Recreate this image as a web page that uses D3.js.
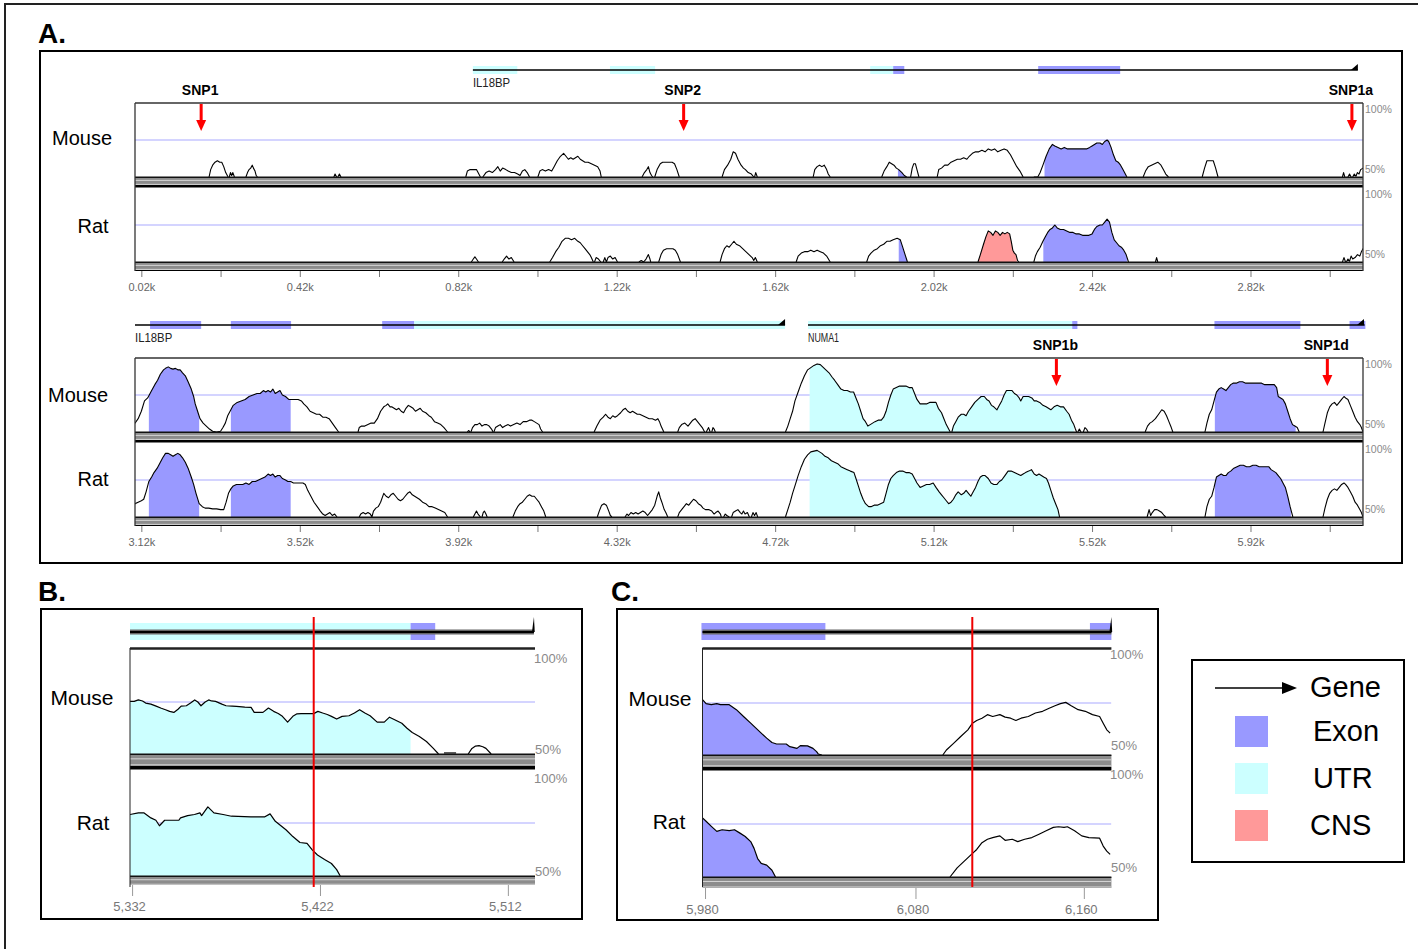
<!DOCTYPE html>
<html>
<head>
<meta charset="utf-8">
<script src="https://cdn.jsdelivr.net/npm/d3@7"></script>
<style>
  body { margin: 0; background: #fff; }
  svg { display: block; }
  text { font-family: "Liberation Sans", Arial, Helvetica, sans-serif; }
</style>
</head>
<body>
<svg id="fig" width="1418" height="949"></svg>
<script>
// ---------------------------------------------------------------------------
// VISTA-style conservation profiles (human reference, % identity, 50-100%)
// Positions are in bp along the human sequence.
// ---------------------------------------------------------------------------

// Panel A rows (bp windows) and axis ticks
const rowDomainsA = [[4, 3104], [3104, 6204]];
const ticksRow1 = [20, 220, 420, 620, 820, 1020, 1220, 1420, 1620, 1820, 2020, 2220, 2420, 2620, 2820, 3020];
const ticksRow2 = [3120, 3320, 3520, 3720, 3920, 4120, 4320, 4520, 4720, 4920, 5120, 5320, 5520, 5720, 5920, 6120];
const tickLabelsRow1 = ["0.02k", "", "0.42k", "", "0.82k", "", "1.22k", "", "1.62k", "", "2.02k", "", "2.42k", "", "2.82k", ""];
const tickLabelsRow2 = ["3.12k", "", "3.52k", "", "3.92k", "", "4.32k", "", "4.72k", "", "5.12k", "", "5.52k", "", "5.92k", ""];

// Gene annotation (panel A)
const geneLinesA = [[857, 3091], [3104, 4745], [4803, 6208]];
const geneFeaturesA = [
  [857, 969, "utr"], [1203, 1317, "utr"], [1860, 1918, "utr"], [1918, 1946, "exon"], [2284, 2491, "exon"],
  [3142, 3271, "exon"], [3346, 3498, "exon"], [3728, 3809, "exon"], [3809, 4745, "utr"],
  [4803, 5470, "utr"], [5470, 5483, "exon"], [5829, 6046, "exon"], [6170, 6210, "exon"]
];
const geneNamesA = [["IL18BP", 857], ["IL18BP", 3104], ["NUMA1", 4803]];

// SNP positions marked in panel A
const snpNamesA = ["SNP1", "SNP2", "SNP1a", "SNP1b", "SNP1d"];
const snpPosA = [171, 1389, 3076, 5430, 6114];

// Mouse vs human, panel A
const mouseA = [
  [[191,50],[195,55],[200,58],[206,60],[212,61],[218,60],[223,60],[228,57],[233,53],[239,50]],
  [[242,50],[245,53],[248,51],[251,53],[255,50]],
  [[284,50],[288,53],[292,55],[296,56],[300,58],[303,56],[307,54],[310,51],[313,50]],
  [[506,50],[509,52],[513,50]],
  [[516,50],[520,52],[524,50]],
  [[839,50],[843,54],[850,55],[858,55],[866,55],[872,52],[876,50]],
  [[882,50],[890,53],[898,54],[906,53],[914,55],[920,57],[926,54],[932,56],[940,55],[946,54],[954,53],[962,53],[970,52],[976,51],[982,54],[988,55],[994,53],[1000,50]],
  [[1021,50],[1026,54],[1032,55],[1040,54],[1048,55],[1056,54],[1062,57],[1070,61],[1078,64],[1086,66],[1092,64],[1098,62],[1104,63],[1110,62],[1116,63],[1122,64],[1128,62],[1134,61],[1140,60],[1148,60],[1156,59],[1164,58],[1172,57],[1178,54],[1181,50]],
  [[1284,50],[1290,53],[1296,55],[1300,57],[1304,53],[1308,51],[1311,50]],
  [[1316,50],[1322,55],[1330,59],[1336,60],[1344,60],[1352,60],[1360,60],[1366,59],[1372,55],[1378,50]],
  [[1486,50],[1492,55],[1500,58],[1508,62],[1514,67],[1520,66],[1526,62],[1534,58],[1540,56],[1545,55],[1552,53],[1560,52],[1566,50]],
  [[1568,50],[1571,53],[1575,50]],
  [[1716,50],[1720,55],[1726,57],[1732,58],[1738,57],[1744,58],[1750,55],[1754,52],[1759,50]],
  [[1889,50],[1895,54],[1902,57],[1908,60],[1914,59],[1920,58],[1926,56],[1932,55],[1940,53],[1946,51],[1952,50]],
  [[1962,50],[1966,56],[1970,59],[1974,59],[1978,55],[1983,50]],
  [[2029,50],[2033,55],[2040,56],[2048,58],[2056,58],[2064,60],[2072,61],[2080,62],[2088,62],[2096,63],[2104,62],[2110,64],[2118,66],[2126,67],[2134,67],[2142,68],[2150,67],[2158,69],[2166,68],[2174,69],[2182,67],[2190,68],[2198,69],[2206,68],[2214,65],[2222,61],[2230,57],[2238,54],[2246,50]],
  [[2273,50],[2283,50],[2289,53],[2296,58],[2304,64],[2312,69],[2320,72],[2326,71],[2334,70],[2342,69],[2350,70],[2358,69],[2366,69],[2374,69],[2382,69],[2390,69],[2398,69],[2406,69],[2414,70],[2420,71],[2426,72],[2432,73],[2440,73],[2446,72],[2452,74],[2458,75],[2462,74],[2468,70],[2474,65],[2480,61],[2486,60],[2492,58],[2498,55],[2504,52],[2508,50]],
  [[2549,50],[2555,54],[2562,57],[2570,58],[2578,59],[2586,60],[2594,58],[2600,55],[2606,52],[2613,50]],
  [[2698,50],[2704,56],[2710,61],[2718,61],[2726,61],[2732,56],[2738,50]],
  [[3052,50],[3055,53],[3058,50]],
  [[3066,50],[3070,52],[3074,50]],
  [[3078,50],[3082,52],[3086,50.5],[3090,53],[3094,52],[3098,55],[3104,56],[3112,59],[3120,64],[3128,71],[3136,73],[3146,78],[3154,82],[3161,85],[3168,89],[3176,92],[3181,93],[3188,94],[3194,93],[3200,92.5],[3206,93],[3212,92],[3218,92],[3224,90],[3231,88],[3238,84],[3246,79],[3252,74],[3256,69],[3262,64],[3268,59],[3276,56],[3284,54],[3292,52],[3300,50.5],[3310,50],[3320,50.5],[3326,53],[3332,56],[3338,61],[3344,64],[3352,68],[3362,70],[3372,71],[3382,72],[3392,74],[3402,75],[3412,76],[3420,76],[3428,78],[3434,77],[3440,78],[3446,77],[3452,79],[3458,76],[3464,77],[3470,78],[3476,75],[3484,74],[3492,72],[3500,72],[3508,72],[3516,72],[3524,71],[3530,69],[3538,67],[3546,64],[3554,63],[3562,62],[3570,62],[3578,60],[3586,60],[3594,59],[3602,56],[3610,53],[3618,50]],
  [[3667,50],[3670,53],[3676,54],[3684,54],[3692,55],[3700,56],[3708,56],[3716,59],[3724,64],[3732,67],[3738,68],[3742,69],[3748,67],[3752,67],[3758,66],[3764,65],[3770,66],[3776,64],[3782,63],[3788,66],[3794,68],[3800,67],[3806,66],[3812,64],[3818,65],[3824,66],[3830,64],[3838,63],[3846,61],[3852,60],[3860,57],[3868,56],[3876,55],[3884,53],[3893,50]],
  [[3943,50],[3946,51],[3950,50]],
  [[3952,50],[3956,53],[3962,55],[3968,55],[3974,56],[3980,54],[3986,55],[3992,55],[3998,54],[4004,52],[4008,50]],
  [[4010,50],[4014,53],[4020,54],[4026,55],[4032,53],[4038,54],[4046,55],[4052,54],[4060,55],[4068,56],[4076,55],[4084,57],[4092,57],[4100,58],[4106,58],[4112,57],[4118,56],[4124,55],[4128,52],[4133,50]],
  [[4263,50],[4270,54],[4278,58],[4286,60],[4292,62],[4298,60],[4304,59],[4310,61],[4316,60],[4322,61],[4330,63],[4336,65],[4342,66],[4348,64],[4354,63],[4360,64],[4366,63],[4372,62],[4378,62],[4386,61],[4394,60],[4402,59],[4410,59],[4418,58],[4424,59],[4428,57],[4432,54],[4439,50]],
  [[4474,50],[4478,53],[4484,55],[4492,56],[4500,54],[4506,56],[4512,58],[4518,59],[4524,57],[4530,55],[4536,53],[4542,50]],
  [[4546,50],[4552,53],[4556,50]],
  [[4560,50],[4563,53],[4566,52],[4569,50]],
  [[4746,50],[4752,54],[4758,59],[4764,64],[4770,71],[4778,77],[4786,83],[4794,88],[4802,92],[4810,93.5],[4818,95],[4826,96],[4834,95.5],[4840,94],[4848,92],[4856,90],[4864,87],[4870,85],[4878,82],[4886,79],[4894,78],[4902,78],[4910,77],[4918,77],[4924,73],[4930,69],[4936,64],[4942,59],[4948,57],[4954,54],[4960,55],[4966,56],[4972,57],[4980,58],[4988,58],[4994,60],[5000,64],[5006,70],[5012,75],[5018,79],[5026,80],[5034,81],[5042,81],[5050,81],[5058,80],[5066,80],[5072,76],[5078,72],[5086,69],[5094,69],[5102,69],[5110,70],[5118,70],[5126,70],[5132,66],[5140,63],[5146,59],[5152,55],[5158,52],[5162,50]],
  [[5166,50],[5170,54],[5176,57],[5182,60],[5190,62],[5196,62],[5202,61],[5208,64],[5216,67],[5224,70],[5232,72],[5240,74],[5248,74],[5254,72],[5260,71],[5266,68],[5272,67],[5280,65],[5286,68],[5292,71],[5298,75],[5304,78],[5310,78],[5318,78],[5324,76],[5330,75],[5336,73],[5340,71],[5346,74],[5352,74],[5360,74],[5368,73],[5374,71],[5380,71],[5388,70],[5396,68],[5404,67],[5410,66],[5416,65],[5424,67],[5432,68],[5440,67],[5448,67],[5456,64],[5462,62],[5468,58],[5474,55],[5478,52],[5481,50]],
  [[5484,50],[5488,52],[5492,50]],
  [[5498,50],[5502,53],[5506,52],[5510,50]],
  [[5654,50],[5660,54],[5666,56],[5672,57],[5680,59],[5688,62],[5696,65],[5702,64],[5708,61],[5714,57],[5720,53],[5724,50]],
  [[5805,50],[5810,56],[5816,62],[5822,65],[5828,71],[5834,77],[5840,79],[5846,80],[5852,79],[5858,78],[5864,80],[5870,82],[5876,83],[5884,83],[5892,84],[5900,84],[5908,83],[5916,83],[5924,83],[5932,83],[5940,83],[5948,83],[5956,82],[5964,82],[5972,82],[5980,82],[5986,80],[5990,74],[5996,73],[6002,72],[6008,69],[6014,64],[6020,59],[6026,55],[6032,54],[6038,53],[6043,50]],
  [[6103,50],[6108,56],[6114,63],[6120,67],[6126,69],[6132,70],[6138,68],[6144,70],[6150,72],[6156,74],[6160,73],[6166,72],[6172,68],[6178,64],[6184,60],[6190,57],[6196,55],[6200,53],[6204,50]]
];
const mouseFillsA = [[1930,1952,"exon"],[2300,2506,"exon"],[3139,3266,"exon"],[3346,3497,"exon"],[4807,5474,"utr"],[5830,6034,"exon"]];

// Rat vs human, panel A
const ratA = [
  [[853,50],[858,52],[862,53.5],[866,52],[871,50]],
  [[931,50],[936,52],[942,54],[948,52],[954,53],[961,50]],
  [[1051,50],[1058,53],[1066,57],[1074,60],[1082,64],[1090,66],[1098,66],[1106,65],[1114,66],[1122,64],[1128,63],[1134,61],[1140,59],[1146,57],[1152,55],[1156,53],[1161,50]],
  [[1164,50],[1168,53],[1174,52],[1180,50]],
  [[1186,50],[1190,53],[1194,50],[1198,53],[1204,54],[1210,52],[1216,53],[1222,50]],
  [[1276,50],[1282,51],[1288,50],[1294,52],[1300,55],[1304,52],[1306,50]],
  [[1326,50],[1332,55],[1338,58],[1346,59],[1354,59],[1362,59],[1368,58],[1374,55],[1381,50]],
  [[1481,50],[1486,55],[1492,59],[1498,61],[1504,60],[1510,62],[1516,64],[1522,62],[1530,61],[1538,59],[1546,57],[1554,55],[1562,53],[1566,51],[1570,53],[1575,50]],
  [[1673,50],[1678,54],[1686,56],[1694,57],[1702,57],[1710,58],[1718,57],[1726,58],[1734,57],[1742,56],[1750,54],[1759,50]],
  [[1851,50],[1856,54],[1862,56],[1870,58],[1878,59],[1886,61],[1894,62],[1902,64],[1910,64],[1918,65],[1928,66],[1936,65],[1942,60],[1948,55],[1954,50]],
  [[2132,50],[2138,55],[2146,62],[2152,67],[2158,71],[2164,70],[2170,68],[2176,71],[2182,70],[2188,68],[2194,70],[2200,69],[2206,70],[2212,69],[2216,64],[2220,58],[2224,56],[2228,55],[2232,51],[2235,50]],
  [[2273,50],[2277,54],[2282,57],[2289,60],[2296,64],[2302,67],[2308,70],[2314,72],[2320,73],[2326,75],[2332,73],[2340,72],[2348,72],[2356,71],[2364,70],[2372,70],[2380,69],[2388,69],[2396,68],[2404,68],[2412,68],[2420,69],[2426,72],[2432,74],[2440,75],[2446,75],[2452,77],[2458,79],[2464,77],[2470,70],[2476,65],[2482,63],[2488,61],[2494,60],[2500,58],[2506,55],[2512,50]],
  [[2580,50],[2583,53],[2586,50]],
  [[3052,50],[3056,53],[3060,50]],
  [[3062,50],[3066,52],[3070,50.5],[3074,54],[3078,52],[3084,53],[3090,55],[3096,54],[3100,57],[3104,59],[3112,60],[3120,61],[3126,62],[3132,67],[3139,74],[3146,77],[3152,80],[3160,83],[3166,86],[3174,90],[3181,93],[3188,93],[3194,92],[3200,91],[3206,92],[3212,93],[3218,92],[3224,90],[3231,87],[3238,83],[3246,77],[3252,72],[3258,66],[3266,59],[3274,57],[3281,56],[3290,56],[3300,55.5],[3310,55.5],[3320,55],[3328,55],[3334,60],[3340,66],[3346,69],[3352,71],[3360,72],[3368,72],[3376,72],[3384,73],[3392,72],[3400,74],[3408,74],[3416,75],[3424,76],[3432,77],[3440,79],[3446,78],[3452,79],[3458,77],[3464,78],[3470,78],[3476,76],[3484,75],[3490,74],[3497,74],[3504,73],[3512,73],[3520,73],[3528,73],[3534,72],[3540,68],[3548,64],[3556,60],[3564,57],[3572,54],[3578,52],[3584,51],[3590,52],[3596,53],[3602,51],[3608,52],[3614,50]],
  [[3670,50],[3674,52],[3680,53],[3686,52],[3692,53],[3698,52],[3702,50],[3706,54],[3712,56],[3718,57],[3724,60],[3732,66],[3738,64],[3744,63],[3750,65],[3756,66],[3762,64],[3768,62],[3774,61],[3780,62],[3786,64],[3792,66],[3798,67],[3804,65],[3810,64],[3816,63],[3822,62],[3830,60],[3838,59],[3846,57],[3854,57],[3862,56],[3870,55],[3878,54],[3886,53],[3893,50]],
  [[3958,50],[3962,52],[3966,54],[3970,52],[3976,50]],
  [[3980,50],[3983,53],[3986,54],[3990,52],[3993,50]],
  [[4058,50],[4064,54],[4070,57],[4076,59],[4082,60],[4088,62],[4094,64],[4100,65],[4106,64],[4112,64],[4118,62],[4124,60],[4130,57],[4136,54],[4141,50]],
  [[4271,50],[4276,54],[4282,58],[4288,59],[4294,58],[4300,54],[4304,51],[4308,50]],
  [[4341,50],[4346,52],[4350,51],[4356,53],[4362,52],[4368,53],[4374,52],[4380,53],[4386,54],[4392,53],[4398,51],[4404,53],[4410,55],[4416,58],[4422,64],[4426,67],[4430,63],[4434,60],[4440,55],[4444,53],[4449,50]],
  [[4474,50],[4478,53],[4484,55],[4490,57],[4496,59],[4502,58],[4508,60],[4514,62],[4520,61],[4526,59],[4532,58],[4538,56],[4544,55],[4552,55],[4560,54],[4566,52],[4570,53],[4576,54],[4582,52],[4584,50]],
  [[4590,50],[4594,52],[4598,51],[4604,50]],
  [[4610,50],[4614,53],[4620,54],[4626,55],[4632,53],[4636,52],[4640,54],[4644,52],[4650,53],[4655,50]],
  [[4660,50],[4664,53],[4668,51],[4672,53],[4676,50]],
  [[4746,50],[4752,55],[4758,60],[4764,66],[4770,71],[4778,78],[4786,84],[4794,89],[4802,92],[4810,94],[4818,94.5],[4826,95],[4832,94],[4838,93],[4846,91],[4854,90],[4862,88],[4870,87],[4878,86],[4886,84],[4894,83],[4902,82],[4910,81],[4919,80],[4924,76],[4930,71],[4936,66],[4942,62],[4948,59],[4956,57],[4962,57],[4970,58],[4978,58],[4986,59],[4994,60],[5000,66],[5006,72],[5012,76],[5018,78],[5026,80],[5034,81],[5042,81],[5050,80],[5058,80],[5066,79],[5072,76],[5078,73],[5086,70],[5094,71],[5102,72],[5110,72],[5119,73],[5126,70],[5134,67],[5140,65],[5146,63],[5152,61],[5158,59],[5164,60],[5170,62],[5176,65],[5182,67],[5190,65],[5196,66],[5202,68],[5208,66],[5214,64],[5220,67],[5226,70],[5232,74],[5238,77],[5244,78],[5250,78],[5258,76],[5265,73],[5272,72],[5280,72],[5286,74],[5292,75],[5300,78],[5308,81],[5316,81],[5324,80],[5332,79],[5340,78],[5346,79],[5352,80],[5360,81],[5367,82],[5374,79],[5380,78],[5386,79],[5392,78],[5398,77],[5405,76],[5410,73],[5416,68],[5422,63],[5428,59],[5434,55],[5438,50]],
  [[5659,50],[5664,55],[5668,51],[5672,53],[5678,55],[5684,55],[5690,54],[5696,53],[5702,51],[5706,50]],
  [[5805,50],[5810,57],[5816,62],[5822,64],[5828,70],[5834,77],[5840,78],[5846,79],[5852,78],[5858,78],[5864,80],[5870,81],[5878,83],[5886,84],[5894,85],[5902,85],[5910,84],[5918,84],[5926,85],[5934,85],[5942,84],[5950,84],[5958,84],[5966,84],[5972,82],[5978,81],[5984,80],[5990,78],[5996,76],[6002,73],[6008,70],[6014,64],[6020,57],[6024,53],[6027,50]],
  [[6103,50],[6108,56],[6114,62],[6120,66],[6126,68],[6132,69],[6138,68],[6144,70],[6150,72],[6156,73],[6160,72],[6166,70],[6172,67],[6178,64],[6184,60],[6190,58],[6196,55],[6200,53],[6204,50]]
];
const ratFillsA = [[1932,1954,"exon"],[2132,2230,"cns"],[2297,2508,"exon"],[3139,3266,"exon"],[3346,3497,"exon"],[4807,5474,"utr"],[5830,6022,"exon"]];

// Panel B: close-up around SNP1b
const domainB = [5331, 5525];
const ticksB = [5332, 5422, 5512];
const snpB = 5419;
const geneLineB = [5331, 5524.5];
const geneFeaturesB = [[5331, 5465.4, "utr"], [5465.4, 5477.2, "exon"]];
const mouseB = [
  [[5331,75.3],[5333,75.3],[5335,76],[5337,75.5],[5338.5,74.5],[5341,74],[5343.5,73],[5346,72],[5348,71.3],[5350,70.5],[5352,70],[5354,71.5],[5355.5,73],[5358,73.2],[5360,74.5],[5362,76],[5363.5,75],[5365,73.2],[5367,75],[5368.7,76],[5370,75.5],[5372,75.3],[5375,74],[5377,73.2],[5380,73],[5382,72.9],[5386,72.5],[5389,72.4],[5390.5,70],[5394.7,70],[5397.3,72.1],[5399.8,70.5],[5402,69.5],[5404,68.1],[5406.5,65.3],[5409,68.1],[5411,69.3],[5413,69.4],[5419,69.4],[5421,70.5],[5423.3,69.7],[5425.5,69],[5427.5,68.1],[5430,66.8],[5432.6,68.1],[5435.9,68.4],[5438.5,69.7],[5441,71.3],[5443.5,69.7],[5446,68.4],[5449.4,65.3],[5452.8,65.3],[5455.3,67.7],[5457.8,66.5],[5461.2,64.8],[5463.7,62.4],[5466.2,60.3],[5469.6,58.4],[5473,56],[5476.3,52.7],[5478.8,50]],
  [[5481.4,50.5],[5487.2,50.5]],
  [[5493,50],[5494.8,52.7],[5496.5,53.8],[5498.2,54],[5500,53.5],[5501.5,52.7],[5504,50]]
];
const ratB = [
  [[5331,79],[5335,79.8],[5337.6,79.8],[5341,77.4],[5343.4,76.3],[5345.1,73.7],[5347.6,76.3],[5354.4,76.3],[5355.2,77.4],[5358.6,78.5],[5361.9,79],[5364.5,79.8],[5365.3,78.5],[5368.3,82.6],[5371.2,79.8],[5375.6,79],[5379.6,78.2],[5388.9,77.9],[5395.6,77.9],[5398.1,79.3],[5400.6,75.8],[5405.7,71.8],[5409,68.6],[5412.4,65.8],[5415.8,65.4],[5418.3,62.3],[5420.8,59.9],[5424.2,57.8],[5427.5,55.9],[5430,53],[5431.7,50]]
];
const mouseFillsB = [[5331, 5465.4, "utr"]];
const ratFillsB = [[5331, 5465.4, "utr"]];

// Panel C: close-up around SNP1d
const domainC = [5978.8, 6173.1];
const ticksC = [5980, 6080, 6160];
const snpC = 6107;
const geneLineC = [5978.8, 6173.1];
const geneFeaturesC = [[5978.3, 6037.2, "exon"], [6162.9, 6173.1, "exon"]];
const mouseC = [
  [[5978.8,76.6],[5980.5,74.7],[5983,74.2],[5985.6,74.7],[5987.3,74.2],[5991.5,74.2],[5994.9,71.8],[5998.3,68.5],[6001.7,65.3],[6004.2,62.9],[6006.7,60.5],[6009.3,58.1],[6011.8,56],[6014,55.3],[6018.6,55.3],[6020.3,54],[6023.7,53.2],[6025.3,54.5],[6028.7,54.4],[6031.3,53.2],[6033,51.6],[6033.8,50.5],[6035.5,50]],
  [[6093,50],[6094.7,52.4],[6098.1,55.6],[6101.5,58.9],[6104.9,62.1],[6107.1,65.3],[6109.1,66.6],[6111.6,67.7],[6114.2,69.4],[6116.7,68.5],[6120.1,69.4],[6122.6,68.2],[6125.2,67.7],[6127.7,66.6],[6130.2,67.7],[6133.6,68.5],[6137,70.2],[6140.4,71],[6143.8,72.6],[6146.3,73.7],[6148.9,74.7],[6151.4,75.3],[6154,73.7],[6157.3,71.8],[6160.7,71],[6164.1,69.4],[6167.5,68.5],[6169.2,65.3],[6170.9,62.1],[6172.5,60.5]]
];
const ratC = [
  [[5978.8,77.9],[5980.5,76.3],[5983,73.9],[5985.6,71.5],[5988.1,72.3],[5991.5,71.9],[5994,72.3],[5996.6,70.7],[5999.1,69.1],[6001.7,66.7],[6003.3,63.5],[6005,58.7],[6006.7,56.4],[6009.3,55.6],[6011.8,53.2],[6013.5,50]],
  [[6096.4,50],[6099.8,54.3],[6103.2,57.5],[6106.6,60.7],[6109.1,63],[6111.6,66.2],[6114.2,67.8],[6116.7,68.6],[6120.1,69.4],[6122.6,67.3],[6126,67.8],[6128.6,66.7],[6131.9,67.8],[6135.3,68.6],[6138.7,70.2],[6142.1,71.8],[6145.5,73.4],[6148,73.7],[6150.6,73.4],[6152.2,73.7],[6155.6,71.8],[6159,69.4],[6162.4,68.6],[6167.5,68.3],[6169.2,64.6],[6170.9,62.2],[6172.5,60.7]]
];
const mouseFillsC = [[5978.3, 6037.2, "exon"]];
const ratFillsC = [[5978.3, 6037.2, "exon"]];

// Legend entries
const legendNames = ["Exon", "UTR", "CNS"];
const legendKeys = ["exon", "utr", "cns"];

// ---------------------------------------------------------------------------
const COLORS = { exon: "#9999ff", utr: "#ccffff", cns: "#ff9999" };
const svg = d3.select("#fig");
const defs = svg.append("defs");
let clipCount = 0;
function clipRect(x, y, w, h) {
  const id = "clip" + (clipCount++);
  defs.append("clipPath").attr("id", id)
    .append("rect").attr("x", x).attr("y", y).attr("width", Math.max(0, w)).attr("height", h);
  return `url(#${id})`;
}

// Conservation track: 75% guide, coloured fills, black profile
function drawTrack(g, x, y, segs, fills, lineW) {
  const [x0, x1] = x.range();
  g.append("line").attr("x1", x0).attr("x2", x1).attr("y1", y(75)).attr("y2", y(75))
    .attr("stroke", "#c6c6ff").attr("stroke-width", 1.3);
  const area = d3.area().x(d => x(d[0])).y0(y(50)).y1(d => y(d[1]));
  const line = d3.line().x(d => x(d[0])).y(d => y(d[1]));
  const top = y(100) - 4, h = y(50) - top;
  fills.forEach(([a, b, type]) => {
    const fg = g.append("g").attr("clip-path", clipRect(x(a), top, x(b) - x(a), h));
    segs.forEach(s => {
      if (s[s.length - 1][0] >= a && s[0][0] <= b)
        fg.append("path").attr("d", area(s)).attr("fill", COLORS[type]);
    });
  });
  segs.forEach(s => g.append("path").attr("d", line(s)).attr("fill", "none")
    .attr("stroke", "#000").attr("stroke-width", lineW).attr("stroke-linejoin", "round"));
}

// Striped gray base bar under each track
function grayBar(g, x0, x1, y, h, sep) {
  g.append("rect").attr("x", x0).attr("y", y).attr("width", x1 - x0).attr("height", h).attr("fill", "#8c8c8c");
  g.append("rect").attr("x", x0).attr("y", y + h * 0.36).attr("width", x1 - x0).attr("height", 1).attr("fill", "#d6d6d6");
  g.append("rect").attr("x", x0).attr("y", y + h * 0.86).attr("width", x1 - x0).attr("height", 1).attr("fill", "#d6d6d6");
  g.append("rect").attr("x", x0).attr("y", y - 0.5).attr("width", x1 - x0).attr("height", 1.5).attr("fill", "#111");
  if (sep > 0) g.append("rect").attr("x", x0).attr("y", y + h).attr("width", x1 - x0).attr("height", sep).attr("fill", "#000");
}

function pctLabel(g, x, y, txt, size, w) {
  const t = g.append("text").attr("x", x).attr("y", y).attr("font-size", size).attr("fill", "#8a8a8a").text(txt);
  if (w) t.attr("textLength", w).attr("lengthAdjust", "spacingAndGlyphs");
}

// ---------------- Outer frame and panel boxes ----------------
svg.append("rect").attr("x", 5).attr("y", 4).attr("width", 1430).attr("height", 960)
  .attr("fill", "none").attr("stroke", "#222").attr("stroke-width", 2);
[[40, 51, 1362, 512], [41, 609, 541, 310], [617, 609, 541, 311], [1192, 660, 212, 202]].forEach(([x, y, w, h]) =>
  svg.append("rect").attr("x", x).attr("y", y).attr("width", w).attr("height", h)
    .attr("fill", "none").attr("stroke", "#000").attr("stroke-width", 2));

[["A.", 38, 43], ["B.", 38, 601], ["C.", 611, 601]].forEach(([t, x, y]) =>
  svg.append("text").attr("x", x).attr("y", y).attr("font-size", 28).attr("font-weight", "bold").text(t));

// ---------------- Panel A ----------------
const rowTicks = [ticksRow1, ticksRow2];
const rowTickLabels = [tickLabelsRow1, tickLabelsRow2];
const speciesPosA = [[[82, 145], [93, 233]], [[78, 402], [93, 486]]];

rowDomainsA.forEach((dom, r) => {
  const dy = r * 255;
  const x = d3.scaleLinear().domain(dom).range([135, 1363]);
  const g = svg.append("g");
  const geneY = 70 + dy;

  // gene features, line, end arrows, names
  const gc = g.append("g").attr("clip-path", clipRect(135, geneY - 12, 1232, 24));
  geneFeaturesA.forEach(([a, b, t]) => {
    gc.append("rect").attr("x", x(a)).attr("y", geneY - 4).attr("width", x(b) - x(a)).attr("height", 8).attr("fill", COLORS[t]);
  });
  geneLinesA.forEach(([a, b]) => {
    if (b <= dom[0] || a >= dom[1]) return;
    gc.append("line").attr("x1", x(a)).attr("x2", x(b)).attr("y1", geneY).attr("y2", geneY).attr("stroke", "#000").attr("stroke-width", 1.5);
    const xe = Math.min(x(b), 1364);
    gc.append("path").attr("d", `M${xe - 7},${geneY} L${xe},${geneY - 6} L${xe},${geneY} Z`).attr("fill", "#000");
  });
  geneNamesA.forEach(([n, p]) => {
    if (p < dom[0] || p >= dom[1]) return;
    g.append("text").attr("x", x(p)).attr("y", geneY + 17).attr("font-size", 12).attr("fill", "#222")
      .attr("textLength", n.length * 6.2).attr("lengthAdjust", "spacingAndGlyphs").text(n);
  });

  // tracks
  const tracks = [
    { segs: mouseA, fills: mouseFillsA, top: 103 + dy, base: 177 + dy, sep: 2.5 },
    { segs: ratA, fills: ratFillsA, top: 188 + dy, base: 262 + dy, sep: 1 }
  ];
  tracks.forEach((t, i) => {
    const y = d3.scaleLinear().domain([50, 100]).range([t.base, t.top]);
    const tg = g.append("g").attr("clip-path", clipRect(135, t.top - 2, 1228, t.base - t.top + 3));
    drawTrack(tg, x, y, t.segs, t.fills, 1.1);
    grayBar(g, 135, 1363, t.base, 8, t.sep);
    pctLabel(g, 1365, t.top + 10, "100%", 10, 27);
    pctLabel(g, 1365, t.base - 4, "50%", 10, 20);
    const [sx, sy] = speciesPosA[r][i];
    g.append("text").attr("x", sx).attr("y", sy).attr("text-anchor", "middle").attr("font-size", 20).text(i === 0 ? "Mouse" : "Rat");
  });

  // plot frame
  g.append("line").attr("x1", 135).attr("x2", 1363).attr("y1", 103 + dy).attr("y2", 103 + dy).attr("stroke", "#333").attr("stroke-width", 1.3);
  g.append("line").attr("x1", 135).attr("x2", 135).attr("y1", 103 + dy).attr("y2", 271 + dy).attr("stroke", "#333").attr("stroke-width", 1.3);
  g.append("line").attr("x1", 1363).attr("x2", 1363).attr("y1", 103 + dy).attr("y2", 271 + dy).attr("stroke", "#333").attr("stroke-width", 1.3);

  // axis
  const ax = g.append("g").attr("transform", `translate(0,${271 + dy})`)
    .call(d3.axisBottom(x).tickValues(rowTicks[r]).tickSize(6).tickFormat((d, i) => rowTickLabels[r][i]));
  ax.select(".domain").remove();
  ax.selectAll(".tick line").attr("stroke", "#777");
  ax.selectAll(".tick text").attr("fill", "#666").attr("font-size", 11).attr("dy", "0.98em")
    .attr("font-family", "Liberation Sans, Arial, sans-serif");

  // SNP markers
  snpPosA.forEach((p, i) => {
    if (p < dom[0] || p >= dom[1]) return;
    const sx = x(p), top = 103 + dy;
    g.append("rect").attr("x", sx - 1.5).attr("y", top + 1).attr("width", 3).attr("height", 18).attr("fill", "#ff0000");
    g.append("path").attr("d", `M${sx - 5},${top + 17} L${sx + 5},${top + 17} L${sx},${top + 28} Z`).attr("fill", "#ff0000");
    g.append("text").attr("x", sx - 1).attr("y", top - 8).attr("text-anchor", "middle").attr("font-size", 14)
      .attr("font-weight", "bold").text(snpNamesA[i]);
  });
});

// ---------------- Panels B and C ----------------
function closeUp(opts) {
  const g = svg.append("g");
  const x = d3.scaleLinear().domain(opts.domain).range(opts.xr);
  const [x0, x1] = opts.xr;
  const gy = 632;
  // gene track
  opts.features.forEach(([a, b, t]) =>
    g.append("rect").attr("x", x(a)).attr("y", 623).attr("width", x(b) - x(a)).attr("height", 17).attr("fill", COLORS[t]));
  g.append("line").attr("x1", x(opts.gene[0])).attr("x2", x(opts.gene[1])).attr("y1", gy).attr("y2", gy).attr("stroke", "#666").attr("stroke-width", 5);
  g.append("line").attr("x1", x(opts.gene[0])).attr("x2", x(opts.gene[1])).attr("y1", gy).attr("y2", gy).attr("stroke", "#000").attr("stroke-width", 2);
  const xe = x(opts.gene[1]);
  g.append("path").attr("d", `M${xe - 2},${gy} L${xe},${gy - 15} L${xe + 0.8},${gy} Z`).attr("fill", "#000");

  // tracks
  const tracks = [
    { segs: opts.mouse, fills: opts.mouseFills, top: opts.mTop, base: opts.mBase, h: 12, sep: 3.5 },
    { segs: opts.rat, fills: opts.ratFills, top: opts.rTop, base: opts.rBase, h: opts.rH, sep: 0 }
  ];
  tracks.forEach((t, i) => {
    const y = d3.scaleLinear().domain([50, 100]).range([t.base, t.top]);
    const tg = g.append("g").attr("clip-path", clipRect(x0, t.top - 2, x1 - x0, t.base - t.top + 3));
    drawTrack(tg, x, y, t.segs, t.fills, 1.2);
    grayBar(g, x0, x1, t.base, t.h, t.sep);
    pctLabel(g, opts.pctX, t.top + opts.pctTop, "100%", 13);
    pctLabel(g, opts.pctX + 1, t.base + opts.pctBase, "50%", 13);
    const [sx, sy] = opts.species[i];
    g.append("text").attr("x", sx).attr("y", sy).attr("text-anchor", "middle").attr("font-size", 21).text(i === 0 ? "Mouse" : "Rat");
  });

  // frame lines
  g.append("line").attr("x1", x0).attr("x2", x1).attr("y1", 648.5).attr("y2", 648.5).attr("stroke", "#222").attr("stroke-width", 2.5);
  g.append("line").attr("x1", x0).attr("x2", x0).attr("y1", 648).attr("y2", 887).attr("stroke", "#222").attr("stroke-width", 1);

  // axis
  const axisY = opts.rBase + opts.rH;
  const ax = g.append("g").attr("transform", `translate(0,${axisY})`)
    .call(d3.axisBottom(x).tickValues(opts.ticks).tickSize(11).tickFormat(d3.format(",")));
  ax.select(".domain").remove();
  ax.selectAll(".tick line").attr("stroke", "#999");
  ax.selectAll(".tick text").attr("fill", "#777").attr("font-size", 13).attr("dx", "-3").attr("dy", "0.92em")
    .attr("font-family", "Liberation Sans, Arial, sans-serif");

  // SNP line
  g.append("line").attr("x1", x(opts.snp)).attr("x2", x(opts.snp)).attr("y1", 617).attr("y2", 887)
    .attr("stroke", "#ee0000").attr("stroke-width", 2);
}

closeUp({
  domain: domainB, xr: [130, 535], ticks: ticksB, snp: snpB,
  gene: geneLineB, features: geneFeaturesB,
  mouse: mouseB, rat: ratB, mouseFills: mouseFillsB, ratFills: ratFillsB,
  mTop: 650, mBase: 754, rTop: 770, rBase: 876, rH: 9,
  pctX: 534, pctTop: 13, pctBase: 0,
  species: [[82, 705], [93, 830]]
});
closeUp({
  domain: domainC, xr: [702.5, 1111.4], ticks: ticksC, snp: snpC,
  gene: geneLineC, features: geneFeaturesC,
  mouse: mouseC, rat: ratC, mouseFills: mouseFillsC, ratFills: ratFillsC,
  mTop: 651, mBase: 755, rTop: 771, rBase: 877, rH: 11,
  pctX: 1110, pctTop: 8, pctBase: -5,
  species: [[660, 706], [669, 829]]
});

// ---------------- Legend ----------------
const lg = svg.append("g");
lg.append("line").attr("x1", 1215).attr("x2", 1284).attr("y1", 688).attr("y2", 688).attr("stroke", "#000").attr("stroke-width", 1.5);
lg.append("path").attr("d", "M1282,682 L1297,688 L1282,694 Z").attr("fill", "#000");
lg.append("text").attr("x", 1310).attr("y", 697).attr("font-size", 29).text("Gene");
legendKeys.forEach((k, i) => {
  const yy = 716 + i * 47;
  lg.append("rect").attr("x", 1235).attr("y", yy).attr("width", 33).attr("height", 31).attr("fill", COLORS[k]);
  lg.append("text").attr("x", [1313, 1313, 1310][i]).attr("y", yy + 25).attr("font-size", 29).text(legendNames[i]);
});
</script>
</body>
</html>
